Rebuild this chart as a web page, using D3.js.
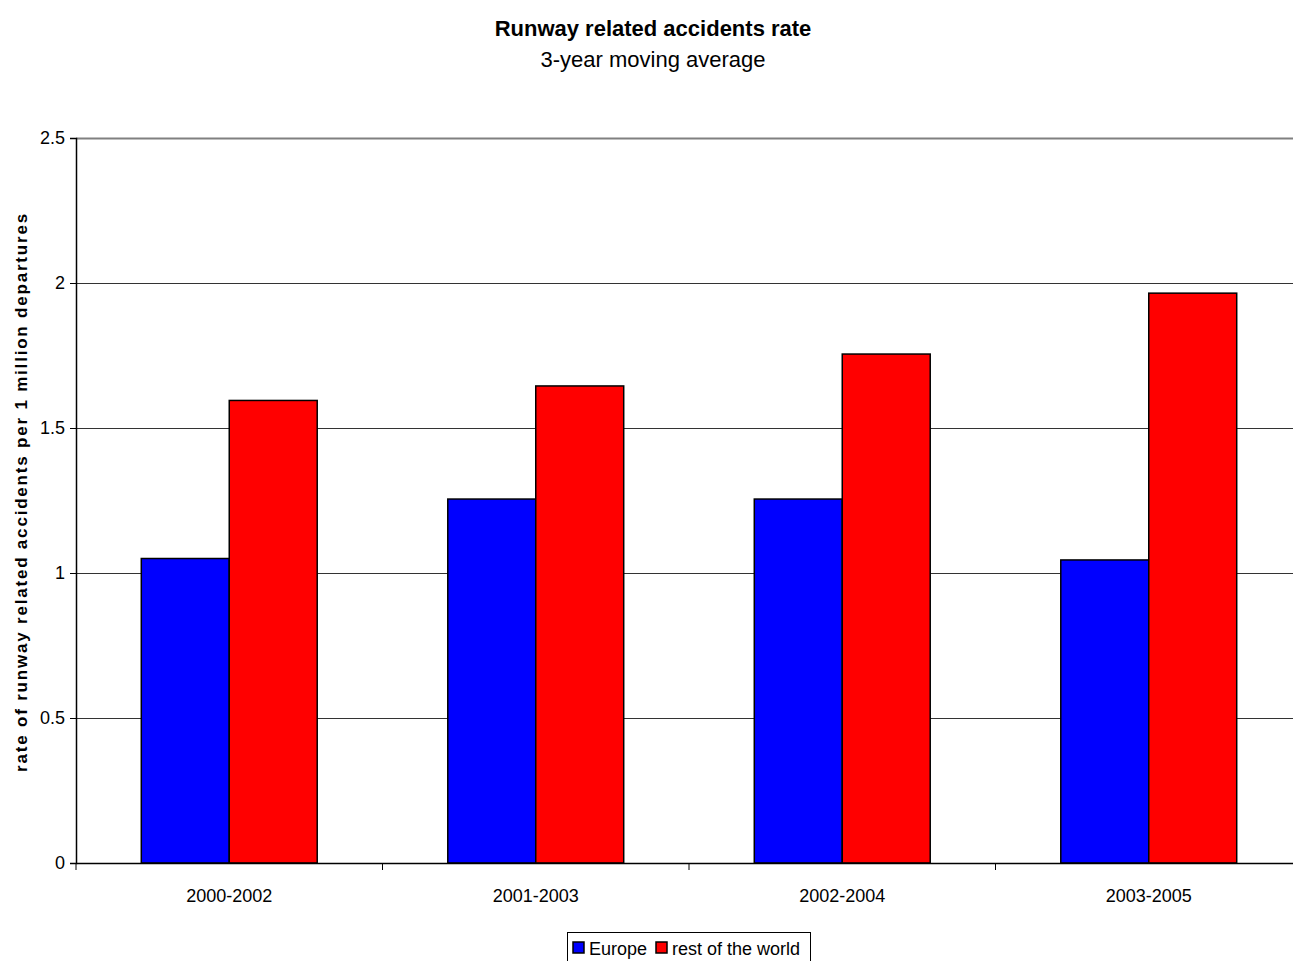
<!DOCTYPE html>
<html>
<head>
<meta charset="utf-8">
<script src="https://cdn.jsdelivr.net/npm/d3@7"></script>
<style>
    body { margin: 0; background: #fff; }
    text { font-family: "Liberation Sans", Arial, sans-serif; fill: #000; }
</style>
</head>
<body>
<div id="chart"></div>
<script>
// data
var categories = [ '2000-2002', '2001-2003', '2002-2004', '2003-2005' ];
var seriesNames = [ 'Europe', 'rest of the world' ];
var europe = [ 1.05, 1.255, 1.255, 1.045 ];
var restOfWorld = [ 1.595, 1.645, 1.755, 1.965 ];
var yTicks = [ 0, 0.5, 1, 1.5, 2, 2.5 ];
var colors = [ '#0000ff', '#ff0000' ];

var width = 1293, height = 961;
var margin = { left: 76, right: -9, top: 138, bottom: 98 };
var innerW = width - margin.left - margin.right,
    innerH = height - margin.top - margin.bottom;

var svg = d3.select('#chart')
    .append('svg')
        .attr('width', width)
        .attr('height', height);

var g = svg.append('g')
    .attr('transform', 'translate(' + margin.left + ', ' + margin.top + ')');

// scales
var x = d3.scaleBand()
    .domain(categories)
    .range([0, innerW])
    .paddingInner(0)
    .paddingOuter(0);

var inner = d3.scaleBand()
    .domain(seriesNames)
    .range([x.bandwidth() * 0.213, x.bandwidth() * 0.787]);

var y = d3.scaleLinear()
    .domain([0, 2.5])
    .range([innerH, 0]);

// gridlines
g.selectAll('.grid')
    .data(yTicks.filter(d => d > 0))
    .enter()
    .append('line')
        .attr('x1', 0)
        .attr('x2', innerW)
        .attr('y1', d => Math.round(y(d)) + 0.5)
        .attr('y2', d => Math.round(y(d)) + 0.5)
        .attr('stroke', d => d === 2.5 ? '#808080' : '#333')
        .attr('stroke-width', d => d === 2.5 ? 2 : 1);

// bars
var rows = categories.map((c, i) => ({ cat: c, values: [europe[i], restOfWorld[i]] }));

var groups = g.selectAll('.cat')
    .data(rows)
    .enter()
    .append('g')
        .attr('transform', d => 'translate(' + x(d.cat) + ', 0)');

groups.selectAll('rect')
    .data(d => d.values.map((v, k) => ({ name: seriesNames[k], value: v, k: k })))
    .enter()
    .append('rect')
        .attr('x', d => inner(d.name))
        .attr('y', d => y(d.value))
        .attr('width', inner.bandwidth())
        .attr('height', d => innerH - y(d.value))
        .attr('fill', d => colors[d.k])
        .attr('stroke', '#000')
        .attr('stroke-width', 1.5);

// y axis
var yAxisCall = d3.axisLeft(y)
    .tickValues(yTicks)
    .tickFormat(d3.format(''))
    .tickSize(6)
    .tickPadding(5);
var yAxisGroup = g.append('g').call(yAxisCall);
yAxisGroup.select('.domain').attr('stroke', '#000').attr('stroke-width', 1.5);
yAxisGroup.selectAll('text').attr('font-size', '18px').attr('font-family', '"Liberation Sans", Arial, sans-serif');

// x axis
var xAxisCall = d3.axisBottom(x)
    .tickSize(0)
    .tickPadding(26);
var xAxisGroup = g.append('g')
    .attr('transform', 'translate(0, ' + innerH + ')')
    .call(xAxisCall);
xAxisGroup.select('.domain').attr('stroke', '#000').attr('stroke-width', 1.5);
xAxisGroup.selectAll('text').attr('font-size', '18px').attr('font-family', '"Liberation Sans", Arial, sans-serif');

// x category separators
g.selectAll('.sep')
    .data(categories)
    .enter()
    .append('line')
        .attr('x1', d => x(d))
        .attr('x2', d => x(d))
        .attr('y1', innerH)
        .attr('y2', innerH + 7)
        .attr('stroke', '#000');

// titles
svg.append('text')
    .attr('x', 653)
    .attr('y', 36)
    .attr('text-anchor', 'middle')
    .attr('font-size', '22px')
    .attr('font-weight', 'bold')
    .text('Runway related accidents rate');

svg.append('text')
    .attr('x', 653)
    .attr('y', 67)
    .attr('text-anchor', 'middle')
    .attr('font-size', '22px')
    .text('3-year moving average');

// Y Label
svg.append('text')
    .attr('transform', 'translate(27, 492) rotate(-90)')
    .attr('text-anchor', 'middle')
    .attr('font-size', '17px')
    .attr('font-weight', 'bold')
    .attr('letter-spacing', '1.8px')
    .text('rate of runway related accidents per 1 million departures');

// legend
var legend = svg.append('g').attr('transform', 'translate(567, 932)');
legend.append('rect')
    .attr('x', 0.5).attr('y', 0.5)
    .attr('width', 243).attr('height', 34)
    .attr('fill', '#fff')
    .attr('stroke', '#000');

var legendX = [ 6, 89 ];
seriesNames.forEach((name, k) => {
    legend.append('rect')
        .attr('x', legendX[k]).attr('y', 10)
        .attr('width', 11).attr('height', 11)
        .attr('fill', colors[k])
        .attr('stroke', '#000')
        .attr('stroke-width', 1.5);
    legend.append('text')
        .attr('x', legendX[k] + 16)
        .attr('y', 23)
        .attr('font-size', '18px')
        .text(name);
});
</script>
</body>
</html>
